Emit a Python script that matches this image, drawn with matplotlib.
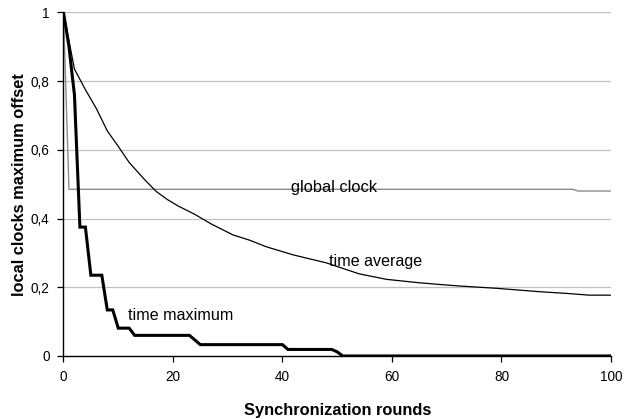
import matplotlib

matplotlib.use("Agg")
import matplotlib.pyplot as plt
from matplotlib.ticker import FuncFormatter

plt.rcParams["font.family"] = ["Liberation Sans", "DejaVu Sans"]

# time maximum: worst-case offset after each round (stepwise)
tmax_x = [0, 1, 2, 3, 4, 5, 7, 8, 9, 10, 12, 13, 23, 25, 40, 41, 49, 50, 51, 100]
tmax_y = [1.0, 0.90, 0.76, 0.375, 0.375, 0.235, 0.235, 0.134, 0.134, 0.081, 0.081,
          0.06, 0.06, 0.033, 0.033, 0.019, 0.019, 0.012, 0.0, 0.0]

# time average
tavg_x = [0, 2, 4, 6, 8, 10, 12, 15, 17, 19, 21, 24, 27, 31, 34, 37, 42, 48, 54,
          59, 62, 65, 68, 72, 76, 79, 83, 87, 92, 96, 100]
tavg_y = [1.0, 0.835, 0.775, 0.72, 0.655, 0.61, 0.563, 0.51, 0.478, 0.455, 0.436,
          0.412, 0.384, 0.352, 0.337, 0.318, 0.294, 0.271, 0.239, 0.223, 0.218,
          0.213, 0.209, 0.204, 0.200, 0.197, 0.192, 0.187, 0.182, 0.177, 0.177]

# global clock
glob_x = [0, 1, 93, 94, 100]
glob_y = [1.0, 0.485, 0.485, 0.48, 0.48]

x_ticks = [0, 20, 40, 60, 80, 100]
y_ticks = [0, 0.2, 0.4, 0.6, 0.8, 1.0]


def comma(v, pos):
    if v == 0:
        return "0"
    if v == 1:
        return "1"
    return f"{v:.1f}".replace(".", ",")


fig = plt.figure(figsize=(6.33, 4.19), dpi=100)
ax = fig.add_axes([0.1003, 0.1504, 0.8649, 0.8202])

for yv in y_ticks[1:]:
    ax.axhline(yv, color="#c0c0c0", lw=0.9, zorder=0)

ax.plot(glob_x, glob_y, color="#8c8c8c", lw=1.0, zorder=2)
ax.plot(tavg_x, tavg_y, color="black", lw=0.9, zorder=3)
ax.plot(tmax_x, tmax_y, color="black", lw=2.2, solid_joinstyle="miter", zorder=4)

ax.text(49.5, 0.468, "global clock", fontsize=11.8, ha="center", va="bottom")
ax.text(57, 0.253, "time average", fontsize=11.6, ha="center", va="bottom")
ax.text(21.4, 0.095, "time maximum", fontsize=11.6, ha="center", va="bottom")

ax.set_xlim(0, 100)
ax.set_ylim(0, 1)
ax.set_xticks(x_ticks)
ax.set_yticks(y_ticks)
ax.yaxis.set_major_formatter(FuncFormatter(comma))
ax.tick_params(axis="both", direction="out", length=4, width=0.9, labelsize=9.8,
               colors="black", pad=6)
ax.spines["top"].set_visible(False)
ax.spines["right"].set_visible(False)
ax.spines["left"].set_linewidth(1.0)
ax.spines["bottom"].set_linewidth(1.0)

ax.set_xlabel("Synchronization rounds", fontsize=11.8, fontweight="bold", labelpad=14)
ax.set_ylabel("local clocks maximum offset", fontsize=11.8, fontweight="bold", labelpad=3)

fig.savefig("out.png", dpi=100)
